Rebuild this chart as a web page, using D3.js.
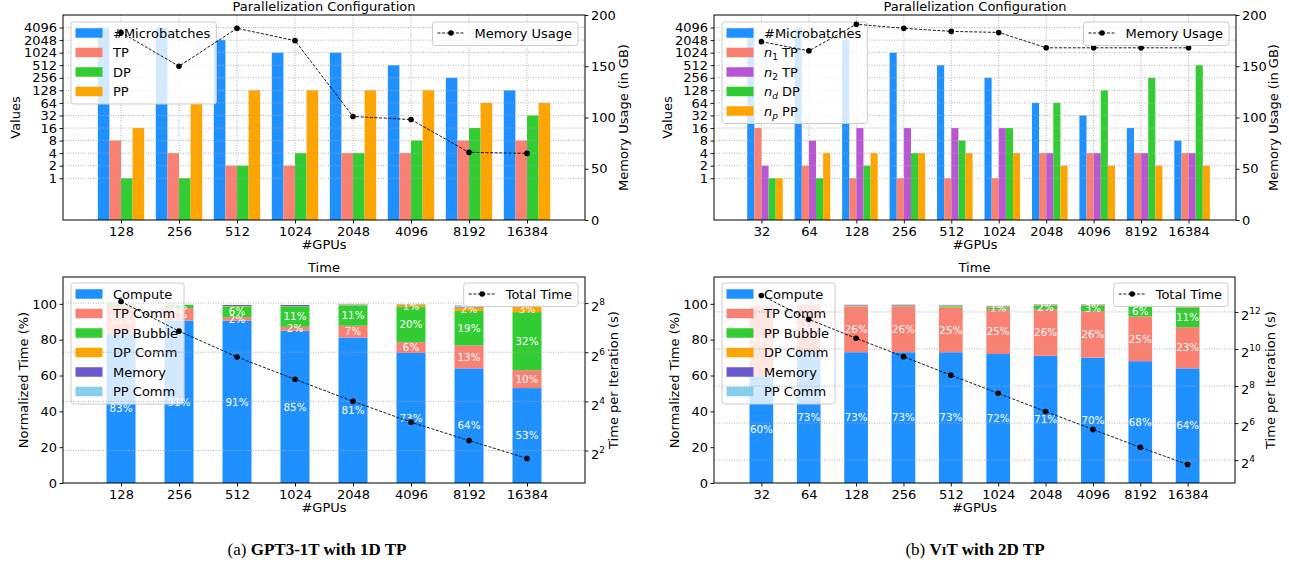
<!DOCTYPE html>
<html><head><meta charset="utf-8">
<script src="https://cdn.jsdelivr.net/npm/d3@7"></script>
<style>
body{margin:0;background:#fff;}
svg{display:block;font-family:"DejaVu Sans",sans-serif;}
</style></head><body>
<svg id="chart" width="1289" height="565"></svg>
<script>
// ---------------- DATA ----------------
// (a) GPT3-1T with 1D TP
const gpusA = ["128","256","512","1024","2048","4096","8192","16384"];
const microbatchesA = [4096,4096,2048,1024,1024,512,256,128];
const tpA = [8,4,2,2,4,4,8,8];
const dpA = [1,1,2,4,4,8,16,32];
const ppA = [16,64,128,128,128,128,64,64];
const memoryUsageA = [183,150,187,175,101,98,66,65];

const computeA   = [83,90.6,90.6,85,81.2,72.6,64,53];
const tpCommA    = [16,7,2,2.2,6.6,6,12.8,10];
const ppBubbleA  = [0.8,1.8,6,11.4,11.4,19.6,19.2,32.4];
const dpCommA    = [0,0,0.2,0.1,0.3,1.2,2,2.8];
const memTimeA   = [0,0.1,0.6,0.7,0.2,0.2,0.4,0.4];
const ppCommA    = [0,0,0,0,0.3,0.3,0.9,0.9];
const totalTimeA = [267,116,56,29.8,16,8.9,5.3,3.2];

// (b) ViT with 2D TP
const gpusB = ["32","64","128","256","512","1024","2048","4096","8192","16384"];
const microbatchesB = [4096,4096,2048,1024,512,256,64,32,16,8];
const n1TpB = [16,2,1,1,1,1,4,4,4,4];
const n2TpB = [2,8,16,16,16,16,4,4,4,4];
const ndDpB = [1,1,2,4,8,16,64,128,256,512];
const npPpB = [1,4,4,4,4,4,2,2,2,2];
const memoryUsageB = [174,165,191,187,184,183,168,168,168,168];

const computeB   = [59.6,73,73,73,73,72,71,70,68,64];
const tpCommB    = [39,26,25.6,25.6,25,25,26,26,25,23];
const ppBubbleB  = [0,0,0.1,0.2,0.6,1,2,3,6,11];
const dpCommB    = [0.2,0.2,0.3,0.3,0.3,0.4,0.3,0.3,0.2,0.2];
const memTimeB   = [0.2,0.2,0.3,0.3,0.3,0.3,0.3,0.3,0.2,0.2];
const ppCommB    = [0.4,0.4,0.3,0.3,0.3,0.3,0.3,0.3,0.3,0.6];
const totalTimeB = [7580,3110,1530,770,385,195,99,50.5,25.8,13.6];

const logTicksTop = [1,2,4,8,16,32,64,128,256,512,1024,2048,4096];
const memTicks = [0,50,100,150,200];
const pctTicks = [0,20,40,60,80,100];
const expTicksA = [2,4,6,8];
const expTicksB = [4,6,8,10,12];

// ---------------- STYLE ----------------
const C = {blue:"#1E90FF", salmon:"#FA8072", green:"#32CD32", orange:"#FFA500",
           purple:"#6A5ACD", orchid:"#BA55D3", sky:"#87CEEB"};
const FS = 13;
const svg = d3.select("#chart");

function styleAxis(sel){
  sel.attr("font-family", null).attr("font-size", FS);
  sel.select(".domain").remove();
  sel.selectAll(".tick line").attr("stroke","#000").attr("stroke-width",0.9);
  sel.selectAll(".tick text").attr("fill","#000");
}

function renderLabel(textSel, parts){
  parts.forEach(p=>{
    if (typeof p === "string") { textSel.append("tspan").text(p); return; }
    if (p.italic) textSel.append("tspan").attr("font-style","italic").text(p.t);
    if (p.sub) {
      textSel.append("tspan").attr("font-size",9).attr("dy",3)
        .attr("font-style", /[a-z]/.test(p.sub) ? "italic" : null).text(p.sub);
      textSel.append("tspan").attr("dy",-3).text(p.rest);
    }
  });
}

function legend(g, opts){
  const {lx, rx, ly, items} = opts;
  const lg = g.append("g");
  const frame = lg.append("rect");
  let maxW = 0;
  const rows = [];
  items.forEach((it,i)=>{
    const cy = ly + 11 + i*19.5;
    const t = lg.append("text").attr("y", cy + 4.7).attr("font-size", FS).attr("fill","#000");
    renderLabel(t, it.label);
    maxW = Math.max(maxW, t.node().getComputedTextLength());
    rows.push({it, cy, t});
  });
  const w = 42 + maxW + 6;
  const h = items.length*19.5 + 4;
  const x0 = (lx !== undefined) ? lx : rx - w;
  frame.attr("x",x0).attr("y",ly).attr("width",w).attr("height",h)
    .attr("rx",2.6).attr("fill","#fff").attr("fill-opacity",0.8)
    .attr("stroke","#ccc").attr("stroke-width",1);
  rows.forEach(({it,cy,t})=>{
    t.attr("x", x0+42);
    if (it.type==="patch"){
      lg.append("rect").attr("x",x0+4.5).attr("y",cy-4.75).attr("width",27).attr("height",9.5).attr("fill",it.color);
    } else {
      lg.append("line").attr("x1",x0+5).attr("x2",x0+32).attr("y1",cy).attr("y2",cy)
        .attr("stroke","#000").attr("stroke-width",0.9).attr("stroke-dasharray","3,1.6");
      lg.append("circle").attr("cx",x0+18.5).attr("cy",cy).attr("r",2.8).attr("fill","#000");
    }
  });
}

function rotLabel(x, y, text){
  svg.append("text").attr("transform",`translate(${x},${y}) rotate(-90)`)
    .attr("text-anchor","middle").attr("font-size",FS).text(text);
}

function drawTop(cfg){
  const {x0,x1,y0,y1,cats,series,memory,barW} = cfg;
  const n = cats.length;
  const x = d3.scaleLinear().domain([-1,n]).range([x0,x1]);
  const y = d3.scaleLog().base(2).domain([0.1,8192]).range([y1,y0]);
  const yR = d3.scaleLinear().domain([0,200]).range([y1,y0]);
  const g = svg.append("g");
  const bw = x(barW)-x(0);
  series.forEach((s,si)=>{
    g.append("g").selectAll("rect").data(s.values).join("rect")
      .attr("x",(d,i)=>x(i+(si-2)*barW)).attr("width",bw)
      .attr("y",d=>y(d)).attr("height",d=>y1-y(d)).attr("fill",s.color);
  });
  const grid = g.append("g").attr("stroke","#a8a8a8").attr("stroke-width",0.9).attr("stroke-dasharray","1,1.5");
  grid.selectAll(".h").data(logTicksTop).join("line").attr("class","h")
    .attr("x1",x0).attr("x2",x1).attr("y1",d=>y(d)).attr("y2",d=>y(d));
  grid.selectAll(".v").data(d3.range(n)).join("line").attr("class","v")
    .attr("x1",d=>x(d)).attr("x2",d=>x(d)).attr("y1",y0).attr("y2",y1);
  legend(g,{lx:x0+8, ly:y0+7, items:series.map(s=>({type:"patch",color:s.color,label:s.label}))});
  g.append("g").attr("transform",`translate(${x0},0)`)
    .call(d3.axisLeft(y).tickValues(logTicksTop).tickFormat(d=>String(d)).tickSize(3.5).tickPadding(2.5).tickSizeOuter(0))
    .call(styleAxis);
  g.append("g").attr("transform",`translate(0,${y1})`)
    .call(d3.axisBottom(x).tickValues(d3.range(n)).tickFormat(i=>cats[i]).tickSize(3.5).tickPadding(3.5).tickSizeOuter(0))
    .call(styleAxis);
  g.append("g").attr("transform",`translate(${x1},0)`)
    .call(d3.axisRight(yR).tickValues(memTicks).tickFormat(d=>String(d)).tickSize(3.5).tickPadding(2.5).tickSizeOuter(0))
    .call(styleAxis);
  g.append("rect").attr("x",x0).attr("y",y0).attr("width",x1-x0).attr("height",y1-y0)
    .attr("fill","none").attr("stroke","#000").attr("stroke-width",1);
  const line = d3.line().x((d,i)=>x(i)).y(d=>yR(d));
  g.append("path").datum(memory).attr("d",line).attr("fill","none")
    .attr("stroke","#000").attr("stroke-width",0.9).attr("stroke-dasharray","3,1.6");
  g.append("g").selectAll("circle").data(memory).join("circle")
    .attr("cx",(d,i)=>x(i)).attr("cy",d=>yR(d)).attr("r",2.8).attr("fill","#000");
  legend(g,{rx:x1-7, ly:y0+7, items:[{type:"line",label:["Memory Usage"]}]});
  svg.append("text").attr("x",(x0+x1)/2).attr("y",y0-4).attr("text-anchor","middle").attr("font-size",FS).text("Parallelization Configuration");
  svg.append("text").attr("x",(x0+x1)/2).attr("y",y1+29).attr("text-anchor","middle").attr("font-size",FS).text("#GPUs");
  rotLabel(cfg.lLabX,(y0+y1)/2,"Values");
  rotLabel(cfg.rLabX,(y0+y1)/2,"Memory Usage (in GB)");
}

function drawBottom(cfg){
  const {x0,x1,y0,y1,cats,series,total,exps} = cfg;
  const n = cats.length;
  const x = d3.scaleLinear().domain([-1,n]).range([x0,x1]);
  const yL = d3.scaleLinear().domain([0,115]).range([y1,y0]);
  const yR = d3.scaleLog().base(2).domain([d3.min(total)/2, d3.max(total)*2]).range([y1,y0]);
  const g = svg.append("g");
  const bw = x(0.5)-x(0);
  const base = new Array(n).fill(0);
  const labels = [];
  series.forEach(s=>{
    const segs = s.values.map((v,i)=>({i, y0:base[i], y1:base[i]+v, v}));
    segs.forEach(sg=>{ base[sg.i] = sg.y1; if (sg.v>=1) labels.push(sg); });
    g.append("g").selectAll("rect").data(segs).join("rect")
      .attr("x",d=>x(d.i)-bw/2).attr("width",bw)
      .attr("y",d=>yL(d.y1)).attr("height",d=>yL(d.y0)-yL(d.y1)).attr("fill",s.color);
  });
  g.append("g").selectAll("text").data(labels).join("text")
    .attr("x",d=>x(d.i)).attr("y",d=>yL((d.y0+d.y1)/2)).attr("dy","0.36em")
    .attr("text-anchor","middle").attr("font-size",10.3).attr("fill","#fff")
    .text(d=>Math.round(d.v)+"%");
  legend(g,{lx:x0+8, ly:y0+6, items:series.map(s=>({type:"patch",color:s.color,label:[s.name]}))});
  const tv = exps.map(e=>2**e);
  g.append("g").attr("stroke","#a8a8a8").attr("stroke-width",0.9).attr("stroke-dasharray","1,1.5")
    .selectAll("line").data(tv).join("line")
    .attr("x1",x0).attr("x2",x1).attr("y1",d=>yR(d)).attr("y2",d=>yR(d));
  g.append("g").attr("transform",`translate(${x0},0)`)
    .call(d3.axisLeft(yL).tickValues(pctTicks).tickFormat(d=>String(d)).tickSize(3.5).tickPadding(2.5).tickSizeOuter(0))
    .call(styleAxis);
  g.append("g").attr("transform",`translate(0,${y1})`)
    .call(d3.axisBottom(x).tickValues(d3.range(n)).tickFormat(i=>cats[i]).tickSize(3.5).tickPadding(3.5).tickSizeOuter(0))
    .call(styleAxis);
  const ra = g.append("g").attr("transform",`translate(${x1},0)`)
    .call(d3.axisRight(yR).tickValues(tv).tickFormat(()=> "").tickSize(3.5).tickPadding(2.5).tickSizeOuter(0))
    .call(styleAxis);
  ra.selectAll(".tick text").each(function(d){
    const t = d3.select(this).attr("dy","0.6em");
    t.append("tspan").text("2");
    t.append("tspan").attr("font-size",9).attr("dy",-6).text(Math.round(Math.log2(d)));
  });
  g.append("rect").attr("x",x0).attr("y",y0).attr("width",x1-x0).attr("height",y1-y0)
    .attr("fill","none").attr("stroke","#000").attr("stroke-width",1);
  const line = d3.line().x((d,i)=>x(i)).y(d=>yR(d));
  g.append("path").datum(total).attr("d",line).attr("fill","none")
    .attr("stroke","#000").attr("stroke-width",0.9).attr("stroke-dasharray","3,1.6");
  g.append("g").selectAll("circle").data(total).join("circle")
    .attr("cx",(d,i)=>x(i)).attr("cy",d=>yR(d)).attr("r",2.8).attr("fill","#000");
  legend(g,{rx:x1-7, ly:y0+6, items:[{type:"line",label:["Total Time"]}]});
  svg.append("text").attr("x",(x0+x1)/2).attr("y",y0-5).attr("text-anchor","middle").attr("font-size",FS).text("Time");
  svg.append("text").attr("x",(x0+x1)/2).attr("y",y1+28.5).attr("text-anchor","middle").attr("font-size",FS).text("#GPUs");
  rotLabel(cfg.lLabX,(y0+y1)/2,"Normalized Time (%)");
  rotLabel(cfg.rLabX,(y0+y1)/2,"Time per Iteration (s)");
}

const timeSeries = (cmp,tp,bub,dp,mem,ppc)=>[
  {name:"Compute",color:C.blue,values:cmp},
  {name:"TP Comm",color:C.salmon,values:tp},
  {name:"PP Bubble",color:C.green,values:bub},
  {name:"DP Comm",color:C.orange,values:dp},
  {name:"Memory",color:C.purple,values:mem},
  {name:"PP Comm",color:C.sky,values:ppc}
];

drawTop({x0:63,x1:585,y0:15,y1:220,cats:gpusA,barW:0.2,memory:memoryUsageA,lLabX:20,rLabX:627.5,
  series:[
    {label:["#Microbatches"],color:C.blue,values:microbatchesA},
    {label:["TP"],color:C.salmon,values:tpA},
    {label:["DP"],color:C.green,values:dpA},
    {label:["PP"],color:C.orange,values:ppA}
  ]});
drawTop({x0:714,x1:1236,y0:15,y1:220,cats:gpusB,barW:0.15,memory:memoryUsageB,lLabX:671.5,rLabX:1277.5,
  series:[
    {label:["#Microbatches"],color:C.blue,values:microbatchesB},
    {label:[{t:"n",italic:true},{sub:"1",rest:" TP"}],color:C.salmon,values:n1TpB},
    {label:[{t:"n",italic:true},{sub:"2",rest:" TP"}],color:C.orchid,values:n2TpB},
    {label:[{t:"n",italic:true},{sub:"d",rest:" DP"}],color:C.green,values:ndDpB},
    {label:[{t:"n",italic:true},{sub:"p",rest:" PP"}],color:C.orange,values:npPpB}
  ]});
drawBottom({x0:63,x1:585,y0:277,y1:483,cats:gpusA,total:totalTimeA,exps:expTicksA,lLabX:28,rLabX:617.5,
  series:timeSeries(computeA,tpCommA,ppBubbleA,dpCommA,memTimeA,ppCommA)});
drawBottom({x0:714,x1:1235,y0:277,y1:483,cats:gpusB,total:totalTimeB,exps:expTicksB,lLabX:678.5,rLabX:1274.5,
  series:timeSeries(computeB,tpCommB,ppBubbleB,dpCommB,memTimeB,ppCommB)});

const capA = svg.append("text").attr("x",317).attr("y",555).attr("text-anchor","middle")
  .attr("font-family","'Liberation Serif',serif").attr("font-size",17);
capA.append("tspan").text("(a) ");
capA.append("tspan").attr("font-weight","bold").text("GPT3-1T with 1D TP");
const capB = svg.append("text").attr("x",975).attr("y",555).attr("text-anchor","middle")
  .attr("font-family","'Liberation Serif',serif").attr("font-size",17);
capB.append("tspan").text("(b) ");
capB.append("tspan").attr("font-weight","bold").text("V");
capB.append("tspan").attr("font-weight","bold").attr("font-variant","small-caps").text("i");
capB.append("tspan").attr("font-weight","bold").text("T with 2D TP");
</script>
</body></html>
